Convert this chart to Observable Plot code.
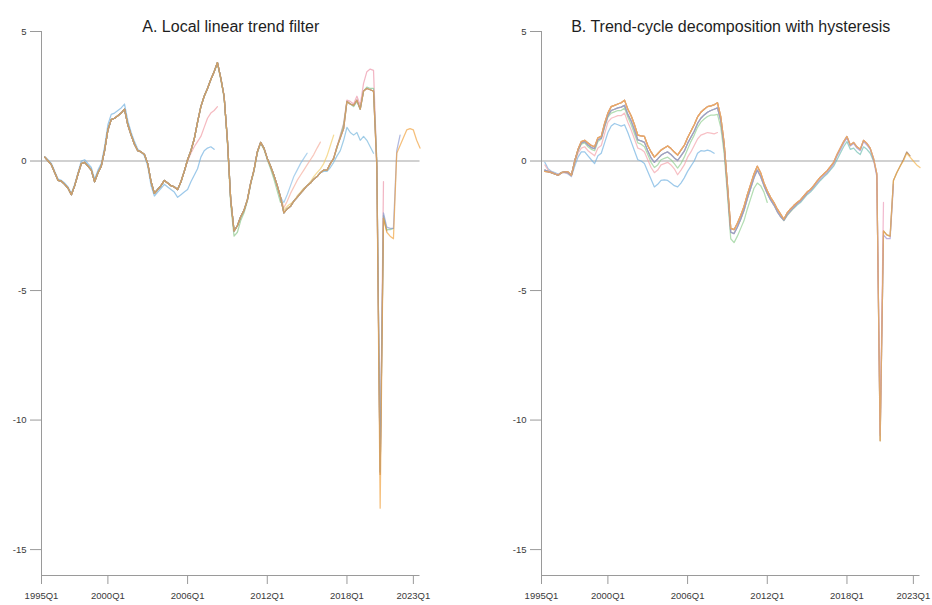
<!DOCTYPE html>
<html>
<head>
<meta charset="utf-8">
<script src="https://cdn.jsdelivr.net/npm/d3@7"></script>
<script src="https://cdn.jsdelivr.net/npm/@observablehq/plot@0.6"></script>
<style>
  body { margin: 0; background: #fff; }
  #wrap { position: relative; width: 932px; height: 605px; }
  .panel { position: absolute; top: 0; }
</style>
</head>
<body>
<div id="wrap">
  <div id="panelA" class="panel" style="left:0px"></div>
  <div id="panelB" class="panel" style="left:500px"></div>
</div>
<script>
// Real-time output gap estimates (% of potential), quarterly from 1995Q1.
// Each vintage array starts in 1995Q1 and runs to the last quarter available in that vintage.

const firstYear = 1995;
const xDomain = [1995, 2023.5];
const yDomain = [-16, 5];
const yTicks = [5, 0, -5, -10, -15];
const xTickYears = [1995, 2000, 2006, 2012, 2018, 2023];
const xTickLabels = ["1995Q1", "2000Q1", "2006Q1", "2012Q1", "2018Q1", "2023Q1"];

// ---------- Panel A: local linear trend filter ----------
// Common history 1995Q1-2019Q4 shared by the later vintages
const gapA_hist = [
  0.15, 0.0, -0.15, -0.45,
  -0.75, -0.78, -0.9, -1.05,
  -1.3, -0.95, -0.5, -0.1,
  -0.05, -0.2, -0.35, -0.8,
  -0.45, -0.2, 0.4, 1.2,
  1.6, 1.65, 1.75, 1.85,
  2.0, 1.4, 1.0, 0.65,
  0.4, 0.35, 0.25, -0.1,
  -0.8, -1.25, -1.1, -0.95,
  -0.75, -0.85, -0.95, -1.0,
  -1.1, -0.8, -0.4, 0.05,
  0.4, 0.85, 1.5, 2.1,
  2.5, 2.8, 3.15, 3.45,
  3.8, 3.2, 2.5, 0.8,
  -1.5, -2.7, -2.5, -2.15,
  -1.9, -1.5, -0.85, -0.35,
  0.35, 0.72, 0.5, 0.1,
  -0.2, -0.55, -0.95, -1.4,
  -2.0, -1.85, -1.75, -1.55,
  -1.4, -1.25, -1.1, -0.95,
  -0.85, -0.7, -0.6, -0.45,
  -0.35, -0.35, -0.1, 0.1,
  0.55, 0.9, 1.25, 2.3,
  2.2, 2.15, 2.35, 2.0,
  2.7, 2.8, 2.75, 2.7
];

const gapA_2007Q4 = [
  0.15, 0.05, -0.1, -0.4,
  -0.7, -0.75, -0.85, -1.0,
  -1.25, -0.9, -0.45, 0.0,
  0.05, -0.1, -0.25, -0.7,
  -0.35, -0.1, 0.55, 1.4,
  1.8, 1.85, 1.95, 2.05,
  2.2, 1.55, 1.1, 0.75,
  0.45, 0.35, 0.2, -0.2,
  -0.95, -1.35, -1.2, -1.05,
  -0.9, -1.0, -1.1, -1.2,
  -1.4, -1.3, -1.2, -1.1,
  -0.8, -0.55, -0.3, 0.15,
  0.4, 0.5, 0.55, 0.45
];
const gapA_2008Q1 = gapA_hist.slice(0, 43).concat(
  [0.0, 0.3, 0.55, 0.75, 0.95, 1.3, 1.65, 1.85, 1.95, 2.1]);
const gapA_2012Q4 = gapA_hist.slice(0, 52).concat(
  [3.75, 3.15, 2.45, 0.7, -1.7, -2.9, -2.75, -2.3, -2.0, -1.55, -0.9, -0.4,
   0.3, 0.68, 0.45, 0.05, -0.3, -0.7, -1.15, -1.6]);
const gapA_2014Q4 = gapA_hist.slice(0, 72).concat(
  [-1.6, -1.3, -0.95, -0.6, -0.35, -0.1, 0.1, 0.3]);
const gapA_2015Q4 = gapA_hist.slice(0, 72).concat(
  [-1.8, -1.55, -1.25, -1.0, -0.75, -0.55, -0.35, -0.15, 0.05, 0.25, 0.5, 0.73]);
const gapA_2016Q4 = gapA_hist.slice(0, 72).concat(
  [-1.9, -1.75, -1.65, -1.55, -1.35, -1.2, -1.05, -0.95, -0.8, -0.6, -0.45, -0.3,
   -0.1, 0.2, 0.6, 1.0]);
const gapA_2019Q4 = gapA_hist.slice(0, 84).concat(
  [-0.4, -0.4, -0.25, -0.05, 0.2, 0.4, 0.8, 1.3, 1.1, 1.0, 1.1, 0.8, 0.95, 0.8, 0.55, 0.3]);
const gapA_2020Q3 = gapA_hist.slice(0, 88).concat(
  [0.55, 1.0, 1.45, 2.35, 2.3, 2.2, 2.5, 2.15, 3.0, 3.45, 3.55, 3.5, -0.1, -12.0, -0.8]);
const gapA_2020Q4 = gapA_hist.concat([-0.2, -12.1, -2.2, -2.7]);
const gapA_2021Q2 = gapA_hist.slice(0, 88).concat(
  [0.5, 0.95, 1.4, 2.3, 2.2, 2.1, 2.3, 2.0, 2.7, 2.85, 2.8, 2.8, 0.0, -12.0, -2.1, -2.65, -2.65, -2.6]);
const gapA_2021Q4 = gapA_hist.concat([-0.2, -12.0, -2.0, -2.55, -2.6, -2.6, 0.4, 1.0]);
const gapA_2023Q2 = gapA_hist.concat(
  [-0.2, -13.4, -2.2, -2.75, -2.9, -3.0, 0.3, 0.6, 0.9, 1.2, 1.25, 1.2, 0.8, 0.5]);

const vintagesA = [
  {name: "A 2007Q4", color: "#6fb0e0", values: gapA_2007Q4},
  {name: "A 2008Q1", color: "#f09aa2", values: gapA_2008Q1},
  {name: "A 2012Q4", color: "#86c486", values: gapA_2012Q4},
  {name: "A 2014Q4", color: "#86bde6", values: gapA_2014Q4},
  {name: "A 2015Q4", color: "#f4ac9c", values: gapA_2015Q4},
  {name: "A 2016Q4", color: "#f2cb66", values: gapA_2016Q4},
  {name: "A 2019Q4", color: "#74b6dc", values: gapA_2019Q4},
  {name: "A 2020Q4", color: "#8d5f42", values: gapA_2020Q4},
  {name: "A 2020Q3", color: "#ec93a8", values: gapA_2020Q3},
  {name: "A 2021Q2", color: "#7fbf8f", values: gapA_2021Q2},
  {name: "A 2021Q4", color: "#8b96d0", values: gapA_2021Q4},
  {name: "A 2023Q2", color: "#f0a03c", values: gapA_2023Q2}
];

// ---------- Panel B: trend-cycle decomposition with hysteresis ----------
const gapB_hist = [
  -0.4, -0.42, -0.45, -0.5,
  -0.55, -0.45, -0.42, -0.42,
  -0.55, 0.0, 0.45, 0.75,
  0.8, 0.7, 0.6, 0.55,
  0.9, 0.95, 1.45, 1.85,
  2.1, 2.15, 2.2, 2.25,
  2.35, 2.0, 1.75, 1.4,
  1.0, 0.97, 0.95, 0.6,
  0.35, 0.15, 0.28, 0.42,
  0.5, 0.58, 0.48, 0.35,
  0.23, 0.42, 0.6, 0.9,
  1.15, 1.4, 1.7, 1.88,
  2.0, 2.1, 2.13, 2.17,
  2.25, 1.7, 0.7, -0.9,
  -2.6, -2.65, -2.4, -2.1,
  -1.75, -1.3, -0.9, -0.5,
  -0.2, -0.45, -0.85, -1.15,
  -1.4, -1.6, -1.85, -2.05,
  -2.25, -2.0, -1.85, -1.72,
  -1.6, -1.5, -1.35, -1.2,
  -1.1, -0.95, -0.78, -0.62,
  -0.5, -0.38, -0.22, -0.05,
  0.25, 0.5, 0.75, 0.95,
  0.62, 0.72, 0.55, 0.45,
  0.8, 0.68, 0.5, 0.1
];
// Slightly lower estimates of the same history, 1995Q1-2012Q4
const gapB_histLow = [
  -0.35, -0.4, -0.45, -0.5,
  -0.55, -0.45, -0.42, -0.45,
  -0.55, 0.0, 0.42, 0.7,
  0.75, 0.62, 0.52, 0.48,
  0.82, 0.88, 1.35, 1.75,
  1.95, 2.0, 2.05, 2.08,
  2.15, 1.8, 1.55, 1.2,
  0.82, 0.78, 0.72, 0.4,
  0.12, -0.05, 0.08, 0.22,
  0.3, 0.35, 0.25, 0.12,
  0.02, 0.2, 0.38, 0.68,
  0.92, 1.15, 1.45, 1.65,
  1.78, 1.88, 1.95, 2.0,
  2.05, 1.55, 0.55, -1.05,
  -2.75, -2.8, -2.55, -2.25,
  -1.9, -1.45, -1.05, -0.65,
  -0.35, -0.6, -0.95, -1.25,
  -1.5, -1.7, -1.95, -2.15
];

const gapB_2007Q4 = [
  -0.05, -0.3, -0.4, -0.45,
  -0.5, -0.45, -0.45, -0.5,
  -0.6, -0.2, 0.15, 0.35,
  0.35, 0.2, 0.05, -0.1,
  0.2, 0.3, 0.7, 1.1,
  1.35, 1.45, 1.4, 1.35,
  1.4, 1.1, 0.75, 0.4,
  0.05, 0.0, -0.1, -0.4,
  -0.7, -1.0, -0.9, -0.75,
  -0.73, -0.75, -0.85, -0.95,
  -1.0, -0.85, -0.65, -0.4,
  -0.2, 0.0, 0.3, 0.4,
  0.38, 0.42, 0.38, 0.3
];
const gapB_2008Q1 = [
  -0.15, -0.35, -0.42, -0.48,
  -0.52, -0.45, -0.45, -0.48,
  -0.58, -0.1, 0.3, 0.5,
  0.55, 0.4, 0.3, 0.2,
  0.5, 0.6, 1.05, 1.5,
  1.65, 1.7, 1.75, 1.75,
  1.85, 1.5, 1.2, 0.85,
  0.5, 0.45, 0.35, 0.05,
  -0.25, -0.45, -0.35, -0.15,
  -0.1, -0.05, -0.15, -0.3,
  -0.53, -0.35, -0.15, 0.15,
  0.35, 0.6, 0.85, 1.0,
  1.05, 1.1, 1.08, 1.05,
  1.1
];
const gapB_2011Q4 = [
  -0.35, -0.4, -0.45, -0.5,
  -0.55, -0.45, -0.42, -0.45,
  -0.55, -0.05, 0.4, 0.65,
  0.7, 0.55, 0.45, 0.4,
  0.75, 0.85, 1.3, 1.7,
  1.85, 1.9, 1.95, 1.95,
  2.05, 1.7, 1.4, 1.05,
  0.7, 0.65, 0.55, 0.25,
  -0.05, -0.25, -0.15, 0.05,
  0.1, 0.15, 0.05, -0.1,
  -0.27, -0.1, 0.15, 0.45,
  0.75, 1.0, 1.3, 1.5,
  1.62, 1.72, 1.77, 1.77,
  1.8, 1.3, 0.3, -1.3,
  -3.0, -3.15, -2.9, -2.6,
  -2.3, -1.85, -1.45, -1.05,
  -0.85, -0.95, -1.2, -1.6
];
const gapB_2014Q4 = gapB_histLow.concat(
  [-2.3, -2.1, -1.95, -1.8, -1.65, -1.55, -1.4, -1.25]);
const gapB_2016Q4 = gapB_hist.slice(0, 88);
const gapB_2019Q4 = gapB_histLow.concat(
  [-2.3, -2.1, -1.95, -1.82,
   -1.7, -1.6, -1.45, -1.3,
   -1.2, -1.05, -0.9, -0.75,
   -0.62, -0.5, -0.35, -0.2,
   0.05, 0.3, 0.55, 0.75,
   0.45, 0.5, 0.35, 0.25,
   0.55, 0.45, 0.3, 0.0]);
const gapB_2020Q3 = gapB_hist.concat([-0.5, -10.5, -1.6]);
const gapB_2021Q2 = gapB_histLow.concat(
  [-2.28, -2.05, -1.9, -1.78,
   -1.65, -1.55, -1.4, -1.25,
   -1.15, -1.0, -0.85, -0.7,
   -0.57, -0.45, -0.3, -0.12,
   0.18, 0.42, 0.68, 0.9,
   0.58, 0.68, 0.5, 0.4,
   0.75, 0.62, 0.45, 0.05,
   -0.6, -10.6, -2.85, -3.0,
   -3.0, -0.9]);
const gapB_2022Q3 = gapB_hist.concat(
  [-0.5, -10.8, -2.7, -2.85, -2.9, -0.75, -0.45, -0.2, 0.05, 0.35, 0.2]);
const gapB_2023Q2 = gapB_hist.concat(
  [-0.5, -10.8, -2.7, -2.85, -2.9, -0.75, -0.45, -0.2, 0.0, 0.3, 0.15, 0.0, -0.15, -0.25]);

const vintagesB = [
  {name: "B 2007Q4", color: "#6fb0e0", values: gapB_2007Q4},
  {name: "B 2008Q1", color: "#f3a0a8", values: gapB_2008Q1},
  {name: "B 2011Q4", color: "#8fcf8f", values: gapB_2011Q4},
  {name: "B 2014Q4", color: "#f2a58c", values: gapB_2014Q4},
  {name: "B 2016Q4", color: "#efc75e", values: gapB_2016Q4},
  {name: "B 2019Q4", color: "#6cbcb0", values: gapB_2019Q4},
  {name: "B 2022Q3", color: "#8f6246", values: gapB_2022Q3},
  {name: "B 2020Q3", color: "#ec9ab8", values: gapB_2020Q3},
  {name: "B 2021Q2", color: "#9e8fd0", values: gapB_2021Q2},
  {name: "B 2023Q2", color: "#f3b24a", values: gapB_2023Q2}
];

// Quarterly observations are placed at the end of their quarter
function toRows(vintages) {
  return vintages.flatMap(v =>
    v.values.map((gap, i) => ({vintage: v.name, t: firstYear + (i + 1) / 4, gap})));
}

function panel(vintages, title, width, marginRight) {
  return Plot.plot({
    width,
    height: 605,
    marginTop: 31,
    marginBottom: 30,
    marginLeft: 41,
    marginRight,
    x: {domain: xDomain},
    y: {domain: yDomain},
    color: {domain: vintages.map(v => v.name), range: vintages.map(v => v.color)},
    style: {fontFamily: "'Liberation Sans', Arial, sans-serif", fontSize: "9.5px", color: "#3a3a3a", background: "#fff", overflow: "visible"},
    marks: [
      Plot.ruleY([0], {stroke: "#c2c2c2", strokeWidth: 1.4}),
      Plot.ruleX([xDomain[0]], {stroke: "#9a9a9a"}),
      Plot.ruleY([yDomain[0]], {stroke: "#9a9a9a"}),
      Plot.axisY({ticks: yTicks, tickSize: 11, tickPadding: 4, stroke: "#9a9a9a",
                  tickFormat: d => String(d), label: null}),
      Plot.axisX({ticks: xTickYears, tickSize: 9, tickPadding: 8, stroke: "#9a9a9a",
                  tickFormat: d => xTickLabels[xTickYears.indexOf(d)], label: null}),
      Plot.line(toRows(vintages), {x: "t", y: "gap", z: "vintage", stroke: "vintage",
                                   strokeWidth: 1.25, strokeOpacity: 0.68}),
      Plot.text([title], {frameAnchor: "top", dy: -11, fontSize: 16, fill: "#1e1e1e"})
    ]
  });
}

document.getElementById("panelA").append(
  panel(vintagesA, "A. Local linear trend filter", 466, 46.5));
document.getElementById("panelB").append(
  panel(vintagesB, "B. Trend-cycle decomposition with hysteresis", 432, 12.5));
</script>
</body>
</html>
